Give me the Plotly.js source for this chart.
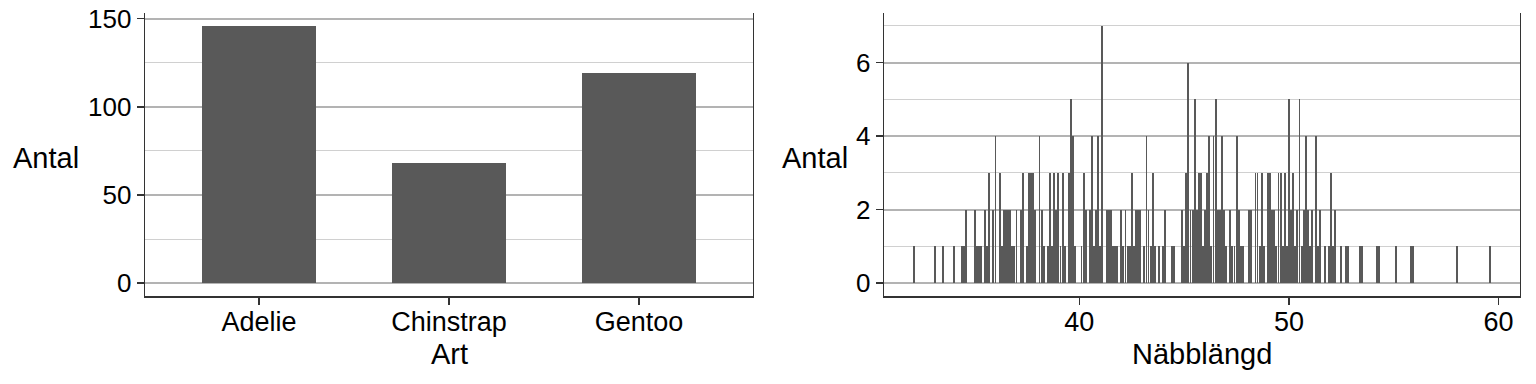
<!DOCTYPE html>
<html>
<head>
<meta charset="utf-8">
<script src="https://cdn.plot.ly/plotly-3.0.1.min.js"></script>
<style>html,body{margin:0;padding:0;background:#fff;}#chart{width:1536px;height:384px;}</style>
</head>
<body>
<div id="chart"></div>
<script>
// Left panel: number of penguins per species
const species = ['Adelie', 'Chinstrap', 'Gentoo'];
const speciesCounts = [146, 68, 119];

// Right panel: number of penguins per bill length (mm)
const billLength = [
  32.1, 33.1, 33.5, 34.0, 34.4, 34.5, 34.6, 35.0, 35.1, 35.2, 35.3, 35.5, 35.6, 35.7, 35.9,
  36.0, 36.2, 36.3, 36.4, 36.5, 36.6, 36.7, 36.8, 36.9, 37.0, 37.2, 37.3, 37.5, 37.6, 37.7,
  37.8, 37.9, 38.1, 38.2, 38.3, 38.5, 38.6, 38.7, 38.8, 38.9, 39.0, 39.1, 39.2, 39.3, 39.5,
  39.6, 39.7, 39.8, 40.1, 40.2, 40.3, 40.5, 40.6, 40.7, 40.8, 40.9, 41.0, 41.1, 41.3, 41.4,
  41.5, 41.6, 41.7, 41.8, 42.0, 42.1, 42.2, 42.3, 42.4, 42.5, 42.6, 42.7, 42.8, 42.9, 43.1,
  43.2, 43.3, 43.4, 43.5, 43.6, 43.8, 44.0, 44.1, 44.4, 44.5, 44.9, 45.0, 45.1, 45.2, 45.3,
  45.4, 45.5, 45.6, 45.7, 45.8, 45.9, 46.0, 46.1, 46.2, 46.3, 46.4, 46.5, 46.6, 46.7, 46.8,
  46.9, 47.0, 47.2, 47.3, 47.4, 47.5, 47.6, 47.7, 47.8, 48.1, 48.2, 48.4, 48.5, 48.6, 48.7,
  48.8, 49.0, 49.1, 49.2, 49.3, 49.4, 49.5, 49.6, 49.7, 49.8, 49.9, 50.0, 50.1, 50.2, 50.3,
  50.4, 50.5, 50.6, 50.7, 50.8, 50.9, 51.0, 51.1, 51.3, 51.4, 51.5, 51.7, 51.9, 52.0, 52.1,
  52.2, 52.5, 52.7, 52.8, 53.4, 53.5, 54.2, 54.3, 55.1, 55.8, 55.9, 58.0, 59.6
];
const billCount = [
  1, 1, 1, 1, 1, 1, 2, 2, 1, 1, 1, 2, 1, 3, 2,
  4, 3, 1, 2, 2, 2, 2, 1, 1, 2, 2, 3, 1, 3, 3,
  3, 2, 4, 2, 1, 1, 3, 1, 3, 2, 3, 1, 3, 1, 3,
  5, 4, 1, 1, 3, 2, 2, 4, 1, 2, 4, 1, 7, 2, 2,
  2, 1, 1, 1, 2, 1, 2, 1, 1, 3, 1, 2, 2, 2, 1,
  4, 2, 1, 3, 1, 1, 1, 2, 1, 1, 2, 1, 3, 6, 2,
  2, 5, 2, 3, 3, 1, 2, 3, 4, 1, 4, 5, 2, 2, 4,
  2, 1, 2, 1, 1, 4, 2, 1, 1, 2, 2, 3, 3, 1, 3,
  1, 3, 3, 2, 2, 1, 3, 3, 1, 3, 1, 5, 2, 3, 1,
  2, 5, 1, 2, 4, 2, 1, 2, 4, 1, 2, 1, 1, 3, 1,
  2, 1, 1, 1, 1, 1, 1, 1, 1, 1, 1, 1, 1
];

const xTitleLeft = 'Art';
const xTitleRight = 'Näbblängd';
const yTitle = 'Antal';

const FONT = 'Liberation Sans, Arial, sans-serif';
const barColor = '#595959';
const lineColor = '#333333';
const majorGrid = '#b3b3b3';
const minorGrid = '#d0d0d0';
const W = 1536, H = 384;

const traces = [
  {type: 'bar', x: species, y: speciesCounts, xaxis: 'x', yaxis: 'y',
   width: 0.6, marker: {color: barColor, line: {width: 0}}, hoverinfo: 'x+y'},
  {type: 'bar', x: billLength, y: billCount, xaxis: 'x2', yaxis: 'y2',
   width: 0.09, marker: {color: barColor, line: {width: 0}}, hoverinfo: 'x+y'}
];

const tickFont = {family: FONT, size: 26, color: '#000'};
const xTickFont = {family: FONT, size: 27, color: '#000'};
const titleFont = {family: FONT, size: 29, color: '#000'};
const yDom = [88 / H, 371 / H];

function yAxis(range, dtick, minorD, anchor) {
  return {
    domain: yDom, anchor: anchor, range: range, dtick: dtick, tick0: 0,
    showgrid: true, gridcolor: majorGrid, gridwidth: 2,
    minor: {dtick: minorD, tick0: 0, showgrid: true, gridcolor: minorGrid, gridwidth: 1, ticks: ''},
    zeroline: false, showline: true, linecolor: lineColor, linewidth: 1.3, mirror: true,
    ticks: 'outside', ticklen: 7, tickwidth: 1.3, tickcolor: lineColor,
    tickfont: tickFont, fixedrange: true
  };
}

function xAxisBase(domain, anchor) {
  return {
    domain: domain, anchor: anchor,
    showgrid: false, zeroline: false, showline: true, linecolor: lineColor, linewidth: 2.2,
    ticks: 'outside', ticklen: 7, tickwidth: 1.3, tickcolor: lineColor, tickfont: xTickFont,
    ticklabelstandoff: -7, fixedrange: true
  };
}

const layout = {
  width: W, height: H,
  margin: {l: 0, r: 0, t: 0, b: 0},
  paper_bgcolor: '#fff', plot_bgcolor: '#fff',
  showlegend: false,
  font: {family: FONT, color: '#000'},
  xaxis: Object.assign(xAxisBase([145 / W, 753 / W], 'y'), {type: 'category', range: [-0.6, 2.6]}),
  yaxis: yAxis([-7.3, 153.3], 50, 25, 'x'),
  xaxis2: Object.assign(xAxisBase([884 / W, 1520 / W], 'y2'), {range: [30.68, 61.02], dtick: 10, tick0: 0}),
  yaxis2: yAxis([-0.35, 7.35], 2, 1, 'x2'),
  annotations: [
    {text: yTitle, xref: 'paper', yref: 'paper', x: 46 / W, y: (H - 158) / H,
     xanchor: 'center', yanchor: 'middle', showarrow: false, font: titleFont},
    {text: yTitle, xref: 'paper', yref: 'paper', x: 815 / W, y: (H - 158) / H,
     xanchor: 'center', yanchor: 'middle', showarrow: false, font: titleFont},
    {text: xTitleLeft, xref: 'paper', yref: 'paper', x: 449 / W, y: (H - 354) / H,
     xanchor: 'center', yanchor: 'middle', showarrow: false, font: titleFont},
    {text: xTitleRight, xref: 'paper', yref: 'paper', x: 1202 / W, y: (H - 354) / H,
     xanchor: 'center', yanchor: 'middle', showarrow: false, font: titleFont}
  ],
  bargap: 0
};

Plotly.newPlot('chart', traces, layout, {displayModeBar: false, staticPlot: true});
</script>
</body>
</html>
